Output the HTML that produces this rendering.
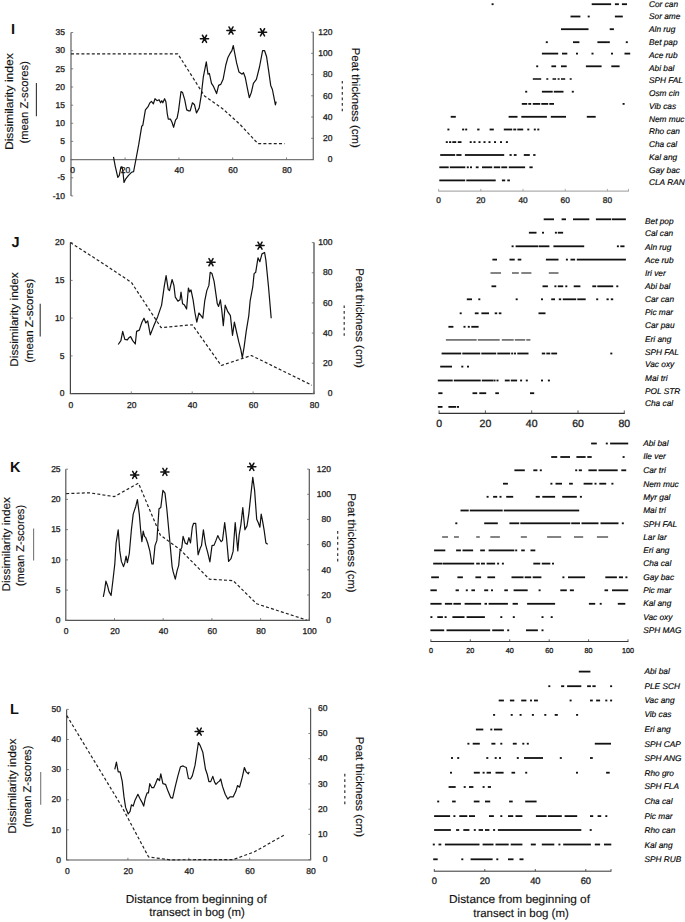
<!DOCTYPE html>
<html><head><meta charset="utf-8"><style>
html,body{margin:0;padding:0;background:#fff;}
body{width:685px;height:922px;overflow:hidden;font-family:"Liberation Sans",sans-serif;}
svg{display:block;text-rendering:geometricPrecision;}
</style></head><body>
<svg width="685" height="922" viewBox="0 0 685 922" font-family="'Liberation Sans', sans-serif"><rect width="685" height="922" fill="#fff"/><line x1="71.0" y1="32.5" x2="71.0" y2="195.9" stroke="#777" stroke-width="1.4" /><line x1="70.3" y1="159.6" x2="314.0" y2="159.6" stroke="#777" stroke-width="1.4" /><line x1="313.3" y1="32.1" x2="313.3" y2="159.5" stroke="#777" stroke-width="1.4" /><line x1="71.0" y1="32.5" x2="73.2" y2="32.5" stroke="#666" stroke-width="0.8" /><text x="65.0" y="35.2" font-size="8.5" text-anchor="end" fill="#222" stroke="#222" stroke-width="0.3" >35</text><line x1="71.0" y1="50.7" x2="73.2" y2="50.7" stroke="#666" stroke-width="0.8" /><text x="65.0" y="53.4" font-size="8.5" text-anchor="end" fill="#222" stroke="#222" stroke-width="0.3" >30</text><line x1="71.0" y1="68.8" x2="73.2" y2="68.8" stroke="#666" stroke-width="0.8" /><text x="65.0" y="71.5" font-size="8.5" text-anchor="end" fill="#222" stroke="#222" stroke-width="0.3" >25</text><line x1="71.0" y1="87.0" x2="73.2" y2="87.0" stroke="#666" stroke-width="0.8" /><text x="65.0" y="89.7" font-size="8.5" text-anchor="end" fill="#222" stroke="#222" stroke-width="0.3" >20</text><line x1="71.0" y1="105.2" x2="73.2" y2="105.2" stroke="#666" stroke-width="0.8" /><text x="65.0" y="107.8" font-size="8.5" text-anchor="end" fill="#222" stroke="#222" stroke-width="0.3" >15</text><line x1="71.0" y1="123.3" x2="73.2" y2="123.3" stroke="#666" stroke-width="0.8" /><text x="65.0" y="126.0" font-size="8.5" text-anchor="end" fill="#222" stroke="#222" stroke-width="0.3" >10</text><line x1="71.0" y1="141.4" x2="73.2" y2="141.4" stroke="#666" stroke-width="0.8" /><text x="65.0" y="144.1" font-size="8.5" text-anchor="end" fill="#222" stroke="#222" stroke-width="0.3" >5</text><line x1="71.0" y1="159.6" x2="73.2" y2="159.6" stroke="#666" stroke-width="0.8" /><text x="65.0" y="162.3" font-size="8.5" text-anchor="end" fill="#222" stroke="#222" stroke-width="0.3" >0</text><line x1="71.0" y1="177.8" x2="73.2" y2="177.8" stroke="#666" stroke-width="0.8" /><text x="65.0" y="180.4" font-size="8.5" text-anchor="end" fill="#222" stroke="#222" stroke-width="0.3" >-5</text><line x1="71.0" y1="195.9" x2="73.2" y2="195.9" stroke="#666" stroke-width="0.8" /><text x="65.0" y="198.6" font-size="8.5" text-anchor="end" fill="#222" stroke="#222" stroke-width="0.3" >-10</text><text x="72.7" y="173.1" font-size="8.5" text-anchor="middle" fill="#222" stroke="#222" stroke-width="0.3" >0</text><line x1="125.1" y1="159.6" x2="125.1" y2="157.4" stroke="#666" stroke-width="0.8" /><text x="125.5" y="173.1" font-size="8.5" text-anchor="middle" fill="#222" stroke="#222" stroke-width="0.3" >20</text><line x1="178.9" y1="159.6" x2="178.9" y2="157.4" stroke="#666" stroke-width="0.8" /><text x="179.3" y="173.1" font-size="8.5" text-anchor="middle" fill="#222" stroke="#222" stroke-width="0.3" >40</text><line x1="232.7" y1="159.6" x2="232.7" y2="157.4" stroke="#666" stroke-width="0.8" /><text x="233.1" y="173.1" font-size="8.5" text-anchor="middle" fill="#222" stroke="#222" stroke-width="0.3" >60</text><line x1="286.5" y1="159.6" x2="286.5" y2="157.4" stroke="#666" stroke-width="0.8" /><text x="286.9" y="173.1" font-size="8.5" text-anchor="middle" fill="#222" stroke="#222" stroke-width="0.3" >80</text><line x1="311.1" y1="159.5" x2="313.3" y2="159.5" stroke="#666" stroke-width="0.8" /><text x="332.5" y="162.2" font-size="8.5" text-anchor="end" fill="#222" stroke="#222" stroke-width="0.3" >0</text><line x1="311.1" y1="138.3" x2="313.3" y2="138.3" stroke="#666" stroke-width="0.8" /><text x="332.5" y="140.9" font-size="8.5" text-anchor="end" fill="#222" stroke="#222" stroke-width="0.3" >20</text><line x1="311.1" y1="117.0" x2="313.3" y2="117.0" stroke="#666" stroke-width="0.8" /><text x="332.5" y="119.7" font-size="8.5" text-anchor="end" fill="#222" stroke="#222" stroke-width="0.3" >40</text><line x1="311.1" y1="95.8" x2="313.3" y2="95.8" stroke="#666" stroke-width="0.8" /><text x="332.5" y="98.5" font-size="8.5" text-anchor="end" fill="#222" stroke="#222" stroke-width="0.3" >60</text><line x1="311.1" y1="74.6" x2="313.3" y2="74.6" stroke="#666" stroke-width="0.8" /><text x="332.5" y="77.2" font-size="8.5" text-anchor="end" fill="#222" stroke="#222" stroke-width="0.3" >80</text><line x1="311.1" y1="53.3" x2="313.3" y2="53.3" stroke="#666" stroke-width="0.8" /><text x="332.5" y="56.0" font-size="8.5" text-anchor="end" fill="#222" stroke="#222" stroke-width="0.3" >100</text><line x1="311.1" y1="32.1" x2="313.3" y2="32.1" stroke="#666" stroke-width="0.8" /><text x="332.5" y="34.8" font-size="8.5" text-anchor="end" fill="#222" stroke="#222" stroke-width="0.3" >120</text><polyline points="71.0,53.8 177.8,53.8 204.5,96.0 222.6,108.7 240.1,124.5 257.9,143.6 284.6,143.6" fill="none" stroke="#222" stroke-width="1.2" stroke-linejoin="round" stroke-dasharray="3,2.2"/><polyline points="113.5,156.9 115.2,166.1 117.8,177.4 119.3,175.3 120.9,167.1 121.9,166.7 122.9,171.2 124.0,182.5 125.4,179.4 128.5,175.3 131.5,172.3 133.6,171.6 136.0,159.0 138.7,144.7 141.7,126.3 142.8,125.3 145.4,109.9 147.9,106.9 149.9,102.8 151.4,101.3 153.4,103.8 155.0,98.7 157.0,100.7 159.1,99.7 160.6,102.8 161.8,100.7 162.8,102.8 164.6,98.7 165.9,101.7 167.3,114.0 168.3,119.1 170.4,119.1 172.0,122.2 173.6,127.3 175.5,120.1 177.1,118.1 178.5,110.9 181.0,91.5 182.6,92.6 184.7,99.7 186.7,109.9 188.8,110.9 190.2,110.9 192.4,102.8 194.5,104.8 196.5,113.0 199.2,107.9 201.2,95.6 203.3,77.2 206.3,61.9 208.0,74.2 209.4,73.5 211.5,83.4 213.5,86.4 216.6,93.6 218.6,85.4 220.7,84.4 223.1,79.3 225.8,65.0 227.8,57.8 229.9,53.7 231.9,50.7 233.3,45.5 234.6,52.7 236.6,62.9 239.0,72.1 242.1,74.2 243.5,72.7 245.2,77.2 247.2,87.4 249.3,97.7 251.3,92.6 253.4,83.4 256.4,79.3 259.5,67.0 262.6,50.7 264.6,50.7 266.6,56.8 268.7,71.1 270.7,85.4 272.4,89.5 273.8,96.6 275.4,104.8 276.2,101.7" fill="none" stroke="#111" stroke-width="1.2" stroke-linejoin="round"/><path d="M200.40,38.80L208.60,38.80M202.45,35.25L206.55,42.35M206.55,35.25L202.45,42.35" stroke="#111" stroke-width="1.5" stroke-linecap="round" fill="none"/><path d="M226.90,30.50L235.10,30.50M228.95,26.95L233.05,34.05M233.05,26.95L228.95,34.05" stroke="#111" stroke-width="1.5" stroke-linecap="round" fill="none"/><path d="M258.40,32.30L266.60,32.30M260.45,28.75L264.55,35.85M264.55,28.75L260.45,35.85" stroke="#111" stroke-width="1.5" stroke-linecap="round" fill="none"/><text x="13.4" y="101.6" font-size="11.2" text-anchor="middle" fill="#111" stroke="#111" stroke-width="0.15" textLength="97" lengthAdjust="spacingAndGlyphs" transform="rotate(-90 13.4 101.6)" >Dissimilarity index</text><text x="28.5" y="102.3" font-size="11.2" text-anchor="middle" fill="#111" stroke="#111" stroke-width="0.15" textLength="82.5" lengthAdjust="spacingAndGlyphs" transform="rotate(-90 28.5 102.3)" >(mean Z-scores)</text><line x1="36.4" y1="82.9" x2="36.4" y2="116.2" stroke="#333" stroke-width="1.1" /><text x="351.6" y="97.7" font-size="11.2" text-anchor="middle" fill="#111" stroke="#111" stroke-width="0.15" textLength="100" lengthAdjust="spacingAndGlyphs" transform="rotate(90 351.6 97.7)" >Peat thickness (cm)</text><line x1="342.3" y1="80.9" x2="342.3" y2="112.4" stroke="#333" stroke-width="1.2" stroke-dasharray="2.7,2.85"/><text x="10.9" y="33.8" font-size="14.5" text-anchor="start" fill="#111" font-weight="bold" >I</text><line x1="70.4" y1="242.6" x2="70.4" y2="393.6" stroke="#444" stroke-width="1.2" /><line x1="69.8" y1="393.6" x2="314.6" y2="393.6" stroke="#444" stroke-width="1.2" /><line x1="314.0" y1="242.6" x2="314.0" y2="393.4" stroke="#444" stroke-width="1.2" /><line x1="70.4" y1="242.6" x2="72.6" y2="242.6" stroke="#666" stroke-width="0.8" /><text x="64.4" y="245.3" font-size="8.5" text-anchor="end" fill="#222" stroke="#222" stroke-width="0.3" >20</text><line x1="70.4" y1="280.4" x2="72.6" y2="280.4" stroke="#666" stroke-width="0.8" /><text x="64.4" y="283.0" font-size="8.5" text-anchor="end" fill="#222" stroke="#222" stroke-width="0.3" >15</text><line x1="70.4" y1="318.1" x2="72.6" y2="318.1" stroke="#666" stroke-width="0.8" /><text x="64.4" y="320.8" font-size="8.5" text-anchor="end" fill="#222" stroke="#222" stroke-width="0.3" >10</text><line x1="70.4" y1="355.9" x2="72.6" y2="355.9" stroke="#666" stroke-width="0.8" /><text x="64.4" y="358.5" font-size="8.5" text-anchor="end" fill="#222" stroke="#222" stroke-width="0.3" >5</text><line x1="70.4" y1="393.6" x2="72.6" y2="393.6" stroke="#666" stroke-width="0.8" /><text x="64.4" y="396.3" font-size="8.5" text-anchor="end" fill="#222" stroke="#222" stroke-width="0.3" >0</text><text x="70.8" y="407.7" font-size="8.5" text-anchor="middle" fill="#222" stroke="#222" stroke-width="0.3" >0</text><line x1="131.3" y1="393.6" x2="131.3" y2="391.4" stroke="#666" stroke-width="0.8" /><text x="131.7" y="407.7" font-size="8.5" text-anchor="middle" fill="#222" stroke="#222" stroke-width="0.3" >20</text><line x1="192.2" y1="393.6" x2="192.2" y2="391.4" stroke="#666" stroke-width="0.8" /><text x="192.6" y="407.7" font-size="8.5" text-anchor="middle" fill="#222" stroke="#222" stroke-width="0.3" >40</text><line x1="253.1" y1="393.6" x2="253.1" y2="391.4" stroke="#666" stroke-width="0.8" /><text x="253.5" y="407.7" font-size="8.5" text-anchor="middle" fill="#222" stroke="#222" stroke-width="0.3" >60</text><line x1="314.0" y1="393.6" x2="314.0" y2="391.4" stroke="#666" stroke-width="0.8" /><text x="314.4" y="407.7" font-size="8.5" text-anchor="middle" fill="#222" stroke="#222" stroke-width="0.3" >80</text><line x1="311.8" y1="393.4" x2="314.0" y2="393.4" stroke="#666" stroke-width="0.8" /><text x="332.5" y="396.1" font-size="8.5" text-anchor="end" fill="#222" stroke="#222" stroke-width="0.3" >0</text><line x1="311.8" y1="363.2" x2="314.0" y2="363.2" stroke="#666" stroke-width="0.8" /><text x="332.5" y="365.9" font-size="8.5" text-anchor="end" fill="#222" stroke="#222" stroke-width="0.3" >20</text><line x1="311.8" y1="333.1" x2="314.0" y2="333.1" stroke="#666" stroke-width="0.8" /><text x="332.5" y="335.8" font-size="8.5" text-anchor="end" fill="#222" stroke="#222" stroke-width="0.3" >40</text><line x1="311.8" y1="302.9" x2="314.0" y2="302.9" stroke="#666" stroke-width="0.8" /><text x="332.5" y="305.6" font-size="8.5" text-anchor="end" fill="#222" stroke="#222" stroke-width="0.3" >60</text><line x1="311.8" y1="272.8" x2="314.0" y2="272.8" stroke="#666" stroke-width="0.8" /><text x="332.5" y="275.4" font-size="8.5" text-anchor="end" fill="#222" stroke="#222" stroke-width="0.3" >80</text><line x1="311.8" y1="242.6" x2="314.0" y2="242.6" stroke="#666" stroke-width="0.8" /><text x="332.5" y="245.3" font-size="8.5" text-anchor="end" fill="#222" stroke="#222" stroke-width="0.3" >100</text><polyline points="70.4,242.6 99.8,261.4 131.4,282.4 161.1,327.6 192.3,324.8 221.2,365.5 251.4,355.5 311.9,385.2" fill="none" stroke="#222" stroke-width="1.2" stroke-linejoin="round" stroke-dasharray="3,2.2"/><polyline points="118.2,344.5 120.9,340.6 122.7,331.4 124.8,339.3 127.4,339.8 128.7,337.9 130.6,336.6 132.7,340.6 135.3,344.0 136.6,331.4 139.3,330.1 141.9,322.2 144.0,318.2 145.8,323.0 147.7,320.9 150.3,334.8 153.7,326.1 157.6,316.9 161.6,305.1 164.2,286.7 166.1,275.7 168.2,289.3 169.5,290.6 172.1,279.5 173.9,285.4 175.3,297.2 177.9,301.2 180.0,299.8 181.0,292.0 182.6,303.8 184.5,305.1 186.6,309.0 188.4,288.0 189.7,292.0 191.0,289.9 193.1,299.8 195.0,313.0 196.8,322.2 198.9,313.0 201.0,315.6 202.8,318.2 204.7,301.2 206.8,290.6 208.9,285.4 210.2,272.3 212.0,273.6 214.1,281.4 216.0,294.6 217.3,303.8 218.6,306.4 220.4,299.8 221.8,310.4 223.3,325.6 225.2,305.1 227.8,311.7 230.4,315.6 232.5,335.3 234.4,322.2 237.0,334.0 238.8,341.9 240.9,349.8 242.3,357.6 244.1,347.1 246.2,331.4 248.8,315.6 250.1,301.2 252.8,286.7 254.1,273.6 255.7,272.3 258.0,257.8 259.9,261.7 262.0,253.9 264.6,252.5 265.9,260.4 268.5,286.7 271.2,318.2" fill="none" stroke="#111" stroke-width="1.2" stroke-linejoin="round"/><path d="M206.90,262.20L215.10,262.20M208.95,258.65L213.05,265.75M213.05,258.65L208.95,265.75" stroke="#111" stroke-width="1.5" stroke-linecap="round" fill="none"/><path d="M255.90,245.60L264.10,245.60M257.95,242.05L262.05,249.15M262.05,242.05L257.95,249.15" stroke="#111" stroke-width="1.5" stroke-linecap="round" fill="none"/><text x="17.5" y="319.5" font-size="11.2" text-anchor="middle" fill="#111" stroke="#111" stroke-width="0.15" textLength="94.5" lengthAdjust="spacingAndGlyphs" transform="rotate(-90 17.5 319.5)" >Dissimilarity index</text><text x="32.7" y="320.8" font-size="11.2" text-anchor="middle" fill="#111" stroke="#111" stroke-width="0.15" textLength="84" lengthAdjust="spacingAndGlyphs" transform="rotate(-90 32.7 320.8)" >(mean Z-scores)</text><line x1="40.2" y1="303.8" x2="40.2" y2="336.6" stroke="#333" stroke-width="1.1" /><text x="355.6" y="318.0" font-size="11.2" text-anchor="middle" fill="#111" stroke="#111" stroke-width="0.15" textLength="99.6" lengthAdjust="spacingAndGlyphs" transform="rotate(90 355.6 318.0)" >Peat thickness (cm)</text><line x1="344.2" y1="305.4" x2="344.2" y2="336.6" stroke="#333" stroke-width="1.2" stroke-dasharray="2.7,2.85"/><text x="11.5" y="247.3" font-size="14.5" text-anchor="start" fill="#111" font-weight="bold" >J</text><line x1="65.8" y1="469.2" x2="65.8" y2="620.3" stroke="#555" stroke-width="1.2" /><line x1="65.2" y1="620.3" x2="309.9" y2="620.3" stroke="#555" stroke-width="1.2" /><line x1="309.3" y1="469.1" x2="309.3" y2="620.2" stroke="#555" stroke-width="1.2" /><line x1="65.8" y1="469.2" x2="68.0" y2="469.2" stroke="#666" stroke-width="0.8" /><text x="60.6" y="471.9" font-size="8.5" text-anchor="end" fill="#222" stroke="#222" stroke-width="0.3" >25</text><line x1="65.8" y1="499.4" x2="68.0" y2="499.4" stroke="#666" stroke-width="0.8" /><text x="60.6" y="502.1" font-size="8.5" text-anchor="end" fill="#222" stroke="#222" stroke-width="0.3" >20</text><line x1="65.8" y1="529.6" x2="68.0" y2="529.6" stroke="#666" stroke-width="0.8" /><text x="60.6" y="532.3" font-size="8.5" text-anchor="end" fill="#222" stroke="#222" stroke-width="0.3" >15</text><line x1="65.8" y1="559.9" x2="68.0" y2="559.9" stroke="#666" stroke-width="0.8" /><text x="60.6" y="562.5" font-size="8.5" text-anchor="end" fill="#222" stroke="#222" stroke-width="0.3" >10</text><line x1="65.8" y1="590.1" x2="68.0" y2="590.1" stroke="#666" stroke-width="0.8" /><text x="60.6" y="592.8" font-size="8.5" text-anchor="end" fill="#222" stroke="#222" stroke-width="0.3" >5</text><line x1="65.8" y1="620.3" x2="68.0" y2="620.3" stroke="#666" stroke-width="0.8" /><text x="60.6" y="623.0" font-size="8.5" text-anchor="end" fill="#222" stroke="#222" stroke-width="0.3" >0</text><text x="66.2" y="634.1" font-size="8.5" text-anchor="middle" fill="#222" stroke="#222" stroke-width="0.3" >0</text><line x1="114.5" y1="620.3" x2="114.5" y2="618.1" stroke="#666" stroke-width="0.8" /><text x="114.9" y="634.1" font-size="8.5" text-anchor="middle" fill="#222" stroke="#222" stroke-width="0.3" >20</text><line x1="163.2" y1="620.3" x2="163.2" y2="618.1" stroke="#666" stroke-width="0.8" /><text x="163.6" y="634.1" font-size="8.5" text-anchor="middle" fill="#222" stroke="#222" stroke-width="0.3" >40</text><line x1="211.9" y1="620.3" x2="211.9" y2="618.1" stroke="#666" stroke-width="0.8" /><text x="212.3" y="634.1" font-size="8.5" text-anchor="middle" fill="#222" stroke="#222" stroke-width="0.3" >60</text><line x1="260.6" y1="620.3" x2="260.6" y2="618.1" stroke="#666" stroke-width="0.8" /><text x="261.0" y="634.1" font-size="8.5" text-anchor="middle" fill="#222" stroke="#222" stroke-width="0.3" >80</text><line x1="309.3" y1="620.3" x2="309.3" y2="618.1" stroke="#666" stroke-width="0.8" /><text x="309.7" y="634.1" font-size="8.5" text-anchor="middle" fill="#222" stroke="#222" stroke-width="0.3" >100</text><line x1="307.1" y1="620.2" x2="309.3" y2="620.2" stroke="#666" stroke-width="0.8" /><text x="331.0" y="622.9" font-size="8.5" text-anchor="end" fill="#222" stroke="#222" stroke-width="0.3" >0</text><line x1="307.1" y1="595.0" x2="309.3" y2="595.0" stroke="#666" stroke-width="0.8" /><text x="331.0" y="597.7" font-size="8.5" text-anchor="end" fill="#222" stroke="#222" stroke-width="0.3" >20</text><line x1="307.1" y1="569.8" x2="309.3" y2="569.8" stroke="#666" stroke-width="0.8" /><text x="331.0" y="572.5" font-size="8.5" text-anchor="end" fill="#222" stroke="#222" stroke-width="0.3" >40</text><line x1="307.1" y1="544.6" x2="309.3" y2="544.6" stroke="#666" stroke-width="0.8" /><text x="331.0" y="547.3" font-size="8.5" text-anchor="end" fill="#222" stroke="#222" stroke-width="0.3" >60</text><line x1="307.1" y1="519.4" x2="309.3" y2="519.4" stroke="#666" stroke-width="0.8" /><text x="331.0" y="522.1" font-size="8.5" text-anchor="end" fill="#222" stroke="#222" stroke-width="0.3" >80</text><line x1="307.1" y1="494.3" x2="309.3" y2="494.3" stroke="#666" stroke-width="0.8" /><text x="331.0" y="496.9" font-size="8.5" text-anchor="end" fill="#222" stroke="#222" stroke-width="0.3" >100</text><line x1="307.1" y1="469.1" x2="309.3" y2="469.1" stroke="#666" stroke-width="0.8" /><text x="331.0" y="471.7" font-size="8.5" text-anchor="end" fill="#222" stroke="#222" stroke-width="0.3" >120</text><polyline points="66.2,493.6 89.3,492.8 114.3,496.6 138.5,483.2 160.3,535.1 180.0,549.5 209.4,579.2 233.1,580.6 256.7,603.8 306.6,620.0" fill="none" stroke="#222" stroke-width="1.2" stroke-linejoin="round" stroke-dasharray="3,2.2"/><polyline points="103.3,596.8 104.6,590.3 105.9,581.1 107.7,586.3 109.0,591.6 111.1,595.5 113.0,579.8 114.8,564.0 116.1,543.0 118.2,529.8 119.8,550.9 121.4,561.4 123.5,566.6 124.8,562.7 126.1,556.1 127.4,562.7 129.3,553.5 131.4,529.8 133.2,514.1 134.5,510.1 135.8,506.2 137.4,499.6 139.3,514.1 140.6,529.8 141.9,541.7 143.2,531.2 144.5,536.4 145.8,537.7 147.7,543.0 149.8,550.9 151.9,564.0 153.2,564.0 155.0,545.6 156.9,540.4 159.0,508.8 160.8,507.5 162.9,490.4 165.0,493.1 166.8,508.8 169.5,537.7 172.1,566.6 173.2,571.9 175.3,579.2 177.1,570.6 178.7,565.3 180.0,550.9 181.8,547.4 183.1,536.4 185.2,543.0 187.1,544.3 188.9,537.7 190.5,543.0 192.3,527.2 193.6,523.3 195.7,523.3 198.1,554.8 200.2,548.2 201.5,545.6 203.4,529.8 205.5,544.3 207.6,552.2 209.9,561.9 212.0,545.6 214.1,545.1 216.0,540.4 217.8,535.6 219.4,539.0 221.2,541.7 222.5,540.4 224.7,522.5 226.5,537.7 228.6,561.4 231.0,558.7 233.1,551.4 235.2,522.5 237.8,550.9 239.1,535.1 240.9,524.6 242.8,507.5 244.9,529.8 247.0,525.9 248.8,514.1 250.9,494.4 252.8,477.3 254.6,490.4 256.7,519.3 258.5,523.3 259.9,527.2 261.2,514.1 262.5,520.6 264.1,529.8 265.9,543.0 267.7,544.3" fill="none" stroke="#111" stroke-width="1.2" stroke-linejoin="round"/><path d="M130.60,474.90L138.80,474.90M132.65,471.35L136.75,478.45M136.75,471.35L132.65,478.45" stroke="#111" stroke-width="1.5" stroke-linecap="round" fill="none"/><path d="M160.80,471.90L169.00,471.90M162.85,468.35L166.95,475.45M166.95,468.35L162.85,475.45" stroke="#111" stroke-width="1.5" stroke-linecap="round" fill="none"/><path d="M247.70,466.80L255.90,466.80M249.75,463.25L253.85,470.35M253.85,463.25L249.75,470.35" stroke="#111" stroke-width="1.5" stroke-linecap="round" fill="none"/><text x="9.7" y="544.3" font-size="11.2" text-anchor="middle" fill="#111" stroke="#111" stroke-width="0.15" textLength="94.6" lengthAdjust="spacingAndGlyphs" transform="rotate(-90 9.7 544.3)" >Dissimilarity index</text><text x="24.1" y="545.6" font-size="11.2" text-anchor="middle" fill="#111" stroke="#111" stroke-width="0.15" textLength="81.4" lengthAdjust="spacingAndGlyphs" transform="rotate(-90 24.1 545.6)" >(mean Z-scores)</text><line x1="33.6" y1="528.5" x2="33.6" y2="560.6" stroke="#777" stroke-width="1.1" /><text x="347.6" y="542.9" font-size="11.2" text-anchor="middle" fill="#111" stroke="#111" stroke-width="0.15" textLength="99.4" lengthAdjust="spacingAndGlyphs" transform="rotate(90 347.6 542.9)" >Peat thickness (cm)</text><line x1="337.7" y1="531.0" x2="337.7" y2="561.4" stroke="#333" stroke-width="1.2" stroke-dasharray="2.7,2.85"/><text x="10.1" y="471.5" font-size="14.5" text-anchor="start" fill="#111" font-weight="bold" >K</text><line x1="66.6" y1="709.4" x2="66.6" y2="860.0" stroke="#555" stroke-width="1.2" /><line x1="66.0" y1="860.0" x2="311.2" y2="860.0" stroke="#555" stroke-width="1.2" /><line x1="310.6" y1="708.3" x2="310.6" y2="859.6" stroke="#555" stroke-width="1.2" /><line x1="66.6" y1="709.4" x2="68.8" y2="709.4" stroke="#666" stroke-width="0.8" /><text x="61.0" y="712.1" font-size="8.5" text-anchor="end" fill="#222" stroke="#222" stroke-width="0.3" >50</text><line x1="66.6" y1="739.5" x2="68.8" y2="739.5" stroke="#666" stroke-width="0.8" /><text x="61.0" y="742.2" font-size="8.5" text-anchor="end" fill="#222" stroke="#222" stroke-width="0.3" >40</text><line x1="66.6" y1="769.6" x2="68.8" y2="769.6" stroke="#666" stroke-width="0.8" /><text x="61.0" y="772.3" font-size="8.5" text-anchor="end" fill="#222" stroke="#222" stroke-width="0.3" >30</text><line x1="66.6" y1="799.8" x2="68.8" y2="799.8" stroke="#666" stroke-width="0.8" /><text x="61.0" y="802.4" font-size="8.5" text-anchor="end" fill="#222" stroke="#222" stroke-width="0.3" >20</text><line x1="66.6" y1="829.9" x2="68.8" y2="829.9" stroke="#666" stroke-width="0.8" /><text x="61.0" y="832.6" font-size="8.5" text-anchor="end" fill="#222" stroke="#222" stroke-width="0.3" >10</text><line x1="66.6" y1="860.0" x2="68.8" y2="860.0" stroke="#666" stroke-width="0.8" /><text x="61.0" y="862.7" font-size="8.5" text-anchor="end" fill="#222" stroke="#222" stroke-width="0.3" >0</text><text x="67.4" y="874.1" font-size="8.5" text-anchor="middle" fill="#222" stroke="#222" stroke-width="0.3" >0</text><line x1="127.9" y1="860.0" x2="127.9" y2="857.8" stroke="#666" stroke-width="0.8" /><text x="128.3" y="874.1" font-size="8.5" text-anchor="middle" fill="#222" stroke="#222" stroke-width="0.3" >20</text><line x1="188.8" y1="860.0" x2="188.8" y2="857.8" stroke="#666" stroke-width="0.8" /><text x="189.2" y="874.1" font-size="8.5" text-anchor="middle" fill="#222" stroke="#222" stroke-width="0.3" >40</text><line x1="249.7" y1="860.0" x2="249.7" y2="857.8" stroke="#666" stroke-width="0.8" /><text x="250.1" y="874.1" font-size="8.5" text-anchor="middle" fill="#222" stroke="#222" stroke-width="0.3" >60</text><line x1="310.6" y1="860.0" x2="310.6" y2="857.8" stroke="#666" stroke-width="0.8" /><text x="311.0" y="874.1" font-size="8.5" text-anchor="middle" fill="#222" stroke="#222" stroke-width="0.3" >80</text><line x1="308.4" y1="859.6" x2="310.6" y2="859.6" stroke="#666" stroke-width="0.8" /><text x="327.5" y="862.3" font-size="8.5" text-anchor="end" fill="#222" stroke="#222" stroke-width="0.3" >0</text><line x1="308.4" y1="834.4" x2="310.6" y2="834.4" stroke="#666" stroke-width="0.8" /><text x="327.5" y="837.1" font-size="8.5" text-anchor="end" fill="#222" stroke="#222" stroke-width="0.3" >10</text><line x1="308.4" y1="809.2" x2="310.6" y2="809.2" stroke="#666" stroke-width="0.8" /><text x="327.5" y="811.8" font-size="8.5" text-anchor="end" fill="#222" stroke="#222" stroke-width="0.3" >20</text><line x1="308.4" y1="783.9" x2="310.6" y2="783.9" stroke="#666" stroke-width="0.8" /><text x="327.5" y="786.6" font-size="8.5" text-anchor="end" fill="#222" stroke="#222" stroke-width="0.3" >30</text><line x1="308.4" y1="758.7" x2="310.6" y2="758.7" stroke="#666" stroke-width="0.8" /><text x="327.5" y="761.4" font-size="8.5" text-anchor="end" fill="#222" stroke="#222" stroke-width="0.3" >40</text><line x1="308.4" y1="733.5" x2="310.6" y2="733.5" stroke="#666" stroke-width="0.8" /><text x="327.5" y="736.2" font-size="8.5" text-anchor="end" fill="#222" stroke="#222" stroke-width="0.3" >50</text><line x1="308.4" y1="708.3" x2="310.6" y2="708.3" stroke="#666" stroke-width="0.8" /><text x="327.5" y="711.0" font-size="8.5" text-anchor="end" fill="#222" stroke="#222" stroke-width="0.3" >60</text><polyline points="66.8,715.6 120.9,805.0 148.6,857.0 170.0,859.8 233.1,859.6 254.1,852.0 285.6,834.2" fill="none" stroke="#222" stroke-width="1.2" stroke-linejoin="round" stroke-dasharray="3,2.2"/><polyline points="114.8,769.3 116.4,762.2 118.2,771.9 120.1,771.9 122.2,781.1 124.0,796.9 125.6,807.4 128.2,814.0 130.1,811.3 131.4,804.8 133.2,806.1 134.8,800.8 136.6,796.9 137.9,794.3 139.8,798.2 141.9,802.1 143.7,806.1 145.3,798.2 147.1,792.9 148.4,792.9 149.8,783.7 151.9,787.7 153.7,787.7 155.5,783.7 157.6,778.5 159.5,780.6 160.8,773.8 162.9,783.7 165.5,784.3 168.2,791.6 170.8,797.7 172.6,798.2 175.3,786.4 177.9,775.9 180.5,766.7 183.1,765.9 184.5,766.7 186.3,767.5 188.4,778.5 190.5,779.0 192.3,775.9 195.0,765.4 196.8,753.5 198.4,742.5 200.2,745.6 202.8,752.2 205.5,769.3 207.3,774.5 208.9,781.6 210.7,781.6 212.8,776.4 214.7,782.4 216.0,784.3 217.8,782.4 219.4,781.1 220.7,779.0 222.5,786.4 225.2,794.3 227.8,799.0 229.9,796.9 233.1,796.9 235.7,791.6 237.5,785.6 239.6,787.2 242.3,777.2 244.4,767.5 246.2,771.9 248.3,773.8 249.3,771.9" fill="none" stroke="#111" stroke-width="1.2" stroke-linejoin="round"/><path d="M195.10,731.60L203.30,731.60M197.15,728.05L201.25,735.15M201.25,728.05L197.15,735.15" stroke="#111" stroke-width="1.5" stroke-linecap="round" fill="none"/><text x="16.2" y="786.2" font-size="11.2" text-anchor="middle" fill="#111" stroke="#111" stroke-width="0.15" textLength="95.1" lengthAdjust="spacingAndGlyphs" transform="rotate(-90 16.2 786.2)" >Dissimilarity index</text><text x="31.5" y="786.4" font-size="11.2" text-anchor="middle" fill="#111" stroke="#111" stroke-width="0.15" textLength="81.5" lengthAdjust="spacingAndGlyphs" transform="rotate(-90 31.5 786.4)" >(mean Z-scores)</text><line x1="40.7" y1="771.9" x2="40.7" y2="804.8" stroke="#777" stroke-width="1.1" /><text x="355.9" y="786.9" font-size="11.2" text-anchor="middle" fill="#111" stroke="#111" stroke-width="0.15" textLength="100.2" lengthAdjust="spacingAndGlyphs" transform="rotate(90 355.9 786.9)" >Peat thickness (cm)</text><line x1="344.8" y1="773.7" x2="344.8" y2="804.4" stroke="#333" stroke-width="1.2" stroke-dasharray="2.7,2.85"/><text x="10.1" y="713.6" font-size="14.5" text-anchor="start" fill="#111" font-weight="bold" >L</text><line x1="438.2" y1="191.1" x2="628.9" y2="191.1" stroke="#999" stroke-width="1.0" /><line x1="438.6" y1="191.1" x2="438.6" y2="188.9" stroke="#999" stroke-width="0.8" /><text x="438.6" y="203.2" font-size="8.3" text-anchor="middle" fill="#222" stroke="#222" stroke-width="0.3" >0</text><line x1="480.8" y1="191.1" x2="480.8" y2="188.9" stroke="#999" stroke-width="0.8" /><text x="480.8" y="203.2" font-size="8.3" text-anchor="middle" fill="#222" stroke="#222" stroke-width="0.3" >20</text><line x1="523.0" y1="191.1" x2="523.0" y2="188.9" stroke="#999" stroke-width="0.8" /><text x="523.0" y="203.2" font-size="8.3" text-anchor="middle" fill="#222" stroke="#222" stroke-width="0.3" >40</text><line x1="565.2" y1="191.1" x2="565.2" y2="188.9" stroke="#999" stroke-width="0.8" /><text x="565.2" y="203.2" font-size="8.3" text-anchor="middle" fill="#222" stroke="#222" stroke-width="0.3" >60</text><line x1="607.4" y1="191.1" x2="607.4" y2="188.9" stroke="#999" stroke-width="0.8" /><text x="607.4" y="203.2" font-size="8.3" text-anchor="middle" fill="#222" stroke="#222" stroke-width="0.3" >80</text><line x1="628.5" y1="191.1" x2="628.5" y2="188.9" stroke="#999" stroke-width="0.8" /><rect x="491.6" y="3.3" width="2.0" height="1.8" fill="#111"/><rect x="591.7" y="3.3" width="19.4" height="1.8" fill="#111"/><rect x="614.9" y="3.3" width="4.0" height="1.8" fill="#111"/><rect x="621.9" y="3.3" width="5.1" height="1.8" fill="#111"/><rect x="570.5" y="15.6" width="9.9" height="1.8" fill="#111"/><rect x="587.7" y="15.6" width="2.0" height="1.8" fill="#111"/><rect x="614.9" y="15.6" width="7.9" height="1.8" fill="#111"/><rect x="561.0" y="28.3" width="27.5" height="1.8" fill="#111"/><rect x="609.7" y="28.3" width="4.2" height="1.8" fill="#111"/><rect x="545.8" y="41.3" width="2.0" height="1.8" fill="#111"/><rect x="573.0" y="41.3" width="6.4" height="1.8" fill="#111"/><rect x="597.4" y="41.3" width="10.5" height="1.8" fill="#111"/><rect x="607.8" y="41.3" width="2.0" height="1.8" fill="#111"/><rect x="625.8" y="41.3" width="2.0" height="1.8" fill="#111"/><rect x="541.9" y="52.7" width="16.3" height="1.8" fill="#111"/><rect x="562.0" y="52.7" width="5.3" height="1.8" fill="#111"/><rect x="576.0" y="52.7" width="2.0" height="1.8" fill="#111"/><rect x="591.5" y="52.7" width="2.0" height="1.8" fill="#111"/><rect x="611.0" y="52.7" width="2.0" height="1.8" fill="#111"/><rect x="624.5" y="52.7" width="5.7" height="1.8" fill="#111"/><rect x="536.2" y="65.4" width="2.0" height="1.8" fill="#111"/><rect x="551.4" y="65.4" width="4.7" height="1.8" fill="#111"/><rect x="561.0" y="65.4" width="5.7" height="1.8" fill="#111"/><rect x="585.9" y="65.4" width="15.7" height="1.8" fill="#111"/><rect x="611.3" y="65.4" width="8.3" height="1.8" fill="#111"/><rect x="532.8" y="78.1" width="8.4" height="1.8" fill="#333"/><rect x="546.3" y="78.1" width="2.0" height="1.8" fill="#333"/><rect x="552.5" y="78.1" width="3.6" height="1.8" fill="#333"/><rect x="557.6" y="78.1" width="2.0" height="1.8" fill="#333"/><rect x="561.0" y="78.1" width="4.2" height="1.8" fill="#333"/><rect x="569.7" y="78.1" width="2.0" height="1.8" fill="#333"/><rect x="525.2" y="90.8" width="2.0" height="1.8" fill="#111"/><rect x="541.9" y="90.8" width="10.8" height="1.8" fill="#111"/><rect x="553.8" y="90.8" width="9.7" height="1.8" fill="#111"/><rect x="571.8" y="90.8" width="2.0" height="1.8" fill="#111"/><rect x="521.8" y="103.0" width="5.4" height="1.8" fill="#111"/><rect x="528.3" y="103.0" width="2.9" height="1.8" fill="#111"/><rect x="532.8" y="103.0" width="7.4" height="1.8" fill="#111"/><rect x="541.3" y="103.0" width="6.9" height="1.8" fill="#111"/><rect x="549.3" y="103.0" width="4.7" height="1.8" fill="#111"/><rect x="622.6" y="103.0" width="2.0" height="1.8" fill="#111"/><rect x="450.7" y="115.9" width="5.1" height="1.8" fill="#111"/><rect x="508.6" y="115.9" width="8.9" height="1.8" fill="#111"/><rect x="521.3" y="115.9" width="25.6" height="1.8" fill="#111"/><rect x="550.8" y="115.9" width="15.2" height="1.8" fill="#111"/><rect x="586.8" y="115.9" width="8.9" height="1.8" fill="#111"/><rect x="447.4" y="128.6" width="2.0" height="1.8" fill="#111"/><rect x="462.1" y="128.6" width="2.1" height="1.8" fill="#111"/><rect x="465.2" y="128.6" width="2.0" height="1.8" fill="#111"/><rect x="477.2" y="128.6" width="2.3" height="1.8" fill="#111"/><rect x="489.6" y="128.6" width="4.2" height="1.8" fill="#111"/><rect x="503.8" y="128.6" width="8.4" height="1.8" fill="#111"/><rect x="513.3" y="128.6" width="2.9" height="1.8" fill="#111"/><rect x="517.3" y="128.6" width="5.9" height="1.8" fill="#111"/><rect x="527.3" y="128.6" width="2.0" height="1.8" fill="#111"/><rect x="533.8" y="128.6" width="2.0" height="1.8" fill="#111"/><rect x="537.3" y="128.6" width="2.0" height="1.8" fill="#111"/><rect x="445.8" y="141.2" width="2.0" height="1.8" fill="#111"/><rect x="449.1" y="141.2" width="2.1" height="1.8" fill="#111"/><rect x="452.3" y="141.2" width="3.9" height="1.8" fill="#111"/><rect x="457.8" y="141.2" width="3.7" height="1.8" fill="#111"/><rect x="469.7" y="141.2" width="2.0" height="1.8" fill="#111"/><rect x="473.5" y="141.2" width="2.0" height="1.8" fill="#111"/><rect x="478.5" y="141.2" width="2.0" height="1.8" fill="#111"/><rect x="483.5" y="141.2" width="2.0" height="1.8" fill="#111"/><rect x="488.5" y="141.2" width="2.0" height="1.8" fill="#111"/><rect x="494.0" y="141.2" width="2.0" height="1.8" fill="#111"/><rect x="500.0" y="141.2" width="2.0" height="1.8" fill="#111"/><rect x="505.9" y="141.2" width="2.0" height="1.8" fill="#111"/><rect x="440.2" y="154.1" width="15.0" height="1.8" fill="#111"/><rect x="456.3" y="154.1" width="5.2" height="1.8" fill="#111"/><rect x="464.9" y="154.1" width="39.3" height="1.8" fill="#111"/><rect x="509.5" y="154.1" width="2.2" height="1.8" fill="#111"/><rect x="513.8" y="154.1" width="2.8" height="1.8" fill="#111"/><rect x="523.8" y="154.1" width="6.0" height="1.8" fill="#111"/><rect x="533.2" y="154.1" width="2.3" height="1.8" fill="#111"/><rect x="439.3" y="166.4" width="9.4" height="1.8" fill="#111"/><rect x="449.8" y="166.4" width="15.5" height="1.8" fill="#111"/><rect x="466.8" y="166.4" width="2.0" height="1.8" fill="#111"/><rect x="470.0" y="166.4" width="2.0" height="1.8" fill="#111"/><rect x="475.8" y="166.4" width="2.8" height="1.8" fill="#111"/><rect x="482.0" y="166.4" width="10.2" height="1.8" fill="#111"/><rect x="493.8" y="166.4" width="6.4" height="1.8" fill="#111"/><rect x="501.3" y="166.4" width="5.9" height="1.8" fill="#111"/><rect x="508.8" y="166.4" width="16.3" height="1.8" fill="#111"/><rect x="529.4" y="166.4" width="3.3" height="1.8" fill="#111"/><rect x="439.3" y="179.5" width="25.9" height="1.8" fill="#111"/><rect x="466.3" y="179.5" width="29.4" height="1.8" fill="#111"/><rect x="501.9" y="179.5" width="3.3" height="1.8" fill="#111"/><rect x="507.3" y="179.5" width="2.6" height="1.8" fill="#111"/><text x="649.0" y="7.2" font-size="8.3" text-anchor="start" fill="#000" stroke="#000" stroke-width="0.15" font-style="italic" >Cor can</text><text x="649.0" y="19.3" font-size="8.3" text-anchor="start" fill="#000" stroke="#000" stroke-width="0.15" font-style="italic" >Sor ame</text><text x="649.0" y="32.2" font-size="8.3" text-anchor="start" fill="#000" stroke="#000" stroke-width="0.15" font-style="italic" >Aln rug</text><text x="649.0" y="45.3" font-size="8.3" text-anchor="start" fill="#000" stroke="#000" stroke-width="0.15" font-style="italic" >Bet pap</text><text x="649.0" y="57.6" font-size="8.3" text-anchor="start" fill="#000" stroke="#000" stroke-width="0.15" font-style="italic" >Ace rub</text><text x="649.0" y="70.7" font-size="8.3" text-anchor="start" fill="#000" stroke="#000" stroke-width="0.15" font-style="italic" >Abi bal</text><text x="649.0" y="83.4" font-size="8.3" text-anchor="start" fill="#000" stroke="#000" stroke-width="0.15" font-style="italic" >SPH FAL</text><text x="649.0" y="96.1" font-size="8.3" text-anchor="start" fill="#000" stroke="#000" stroke-width="0.15" font-style="italic" >Osm cin</text><text x="649.0" y="108.6" font-size="8.3" text-anchor="start" fill="#000" stroke="#000" stroke-width="0.15" font-style="italic" >Vib cas</text><text x="649.0" y="121.7" font-size="8.3" text-anchor="start" fill="#000" stroke="#000" stroke-width="0.15" font-style="italic" >Nem muc</text><text x="649.0" y="134.4" font-size="8.3" text-anchor="start" fill="#000" stroke="#000" stroke-width="0.15" font-style="italic" >Rho can</text><text x="649.0" y="147.1" font-size="8.3" text-anchor="start" fill="#000" stroke="#000" stroke-width="0.15" font-style="italic" >Cha cal</text><text x="649.0" y="159.8" font-size="8.3" text-anchor="start" fill="#000" stroke="#000" stroke-width="0.15" font-style="italic" >Kal ang</text><text x="649.0" y="172.5" font-size="8.3" text-anchor="start" fill="#000" stroke="#000" stroke-width="0.15" font-style="italic" >Gay bac</text><text x="649.0" y="185.2" font-size="8.3" text-anchor="start" fill="#000" stroke="#000" stroke-width="0.15" font-style="italic" >CLA RAN</text><line x1="438.7" y1="413.4" x2="624.7" y2="413.4" stroke="#333" stroke-width="1.3" /><line x1="439.1" y1="413.4" x2="439.1" y2="410.4" stroke="#333" stroke-width="0.8" /><text x="439.1" y="426.8" font-size="10.5" text-anchor="middle" fill="#222" stroke="#222" stroke-width="0.3" >0</text><line x1="485.4" y1="413.4" x2="485.4" y2="410.4" stroke="#333" stroke-width="0.8" /><text x="485.4" y="426.8" font-size="10.5" text-anchor="middle" fill="#222" stroke="#222" stroke-width="0.3" >20</text><line x1="531.7" y1="413.4" x2="531.7" y2="410.4" stroke="#333" stroke-width="0.8" /><text x="531.7" y="426.8" font-size="10.5" text-anchor="middle" fill="#222" stroke="#222" stroke-width="0.3" >40</text><line x1="578.0" y1="413.4" x2="578.0" y2="410.4" stroke="#333" stroke-width="0.8" /><text x="578.0" y="426.8" font-size="10.5" text-anchor="middle" fill="#222" stroke="#222" stroke-width="0.3" >60</text><line x1="624.3" y1="413.4" x2="624.3" y2="410.4" stroke="#333" stroke-width="0.8" /><text x="624.3" y="426.8" font-size="10.5" text-anchor="middle" fill="#222" stroke="#222" stroke-width="0.3" >80</text><rect x="543.7" y="218.4" width="10.3" height="1.8" fill="#111"/><rect x="561.6" y="218.4" width="4.4" height="1.8" fill="#111"/><rect x="573.0" y="218.4" width="16.3" height="1.8" fill="#111"/><rect x="595.9" y="218.4" width="15.2" height="1.8" fill="#111"/><rect x="611.8" y="218.4" width="14.1" height="1.8" fill="#111"/><rect x="528.9" y="231.8" width="7.6" height="1.8" fill="#111"/><rect x="542.0" y="231.8" width="2.0" height="1.8" fill="#111"/><rect x="554.9" y="231.8" width="2.0" height="1.8" fill="#111"/><rect x="557.8" y="231.8" width="5.3" height="1.8" fill="#111"/><rect x="511.6" y="245.4" width="2.0" height="1.8" fill="#111"/><rect x="515.6" y="245.4" width="22.8" height="1.8" fill="#111"/><rect x="538.9" y="245.4" width="10.5" height="1.8" fill="#111"/><rect x="553.4" y="245.4" width="30.8" height="1.8" fill="#111"/><rect x="616.9" y="245.4" width="2.0" height="1.8" fill="#111"/><rect x="620.3" y="245.4" width="4.2" height="1.8" fill="#111"/><rect x="492.4" y="258.7" width="4.6" height="1.8" fill="#111"/><rect x="509.5" y="258.7" width="5.2" height="1.8" fill="#111"/><rect x="517.7" y="258.7" width="3.6" height="1.8" fill="#111"/><rect x="545.9" y="258.7" width="12.6" height="1.8" fill="#111"/><rect x="565.9" y="258.7" width="2.0" height="1.8" fill="#111"/><rect x="570.5" y="258.7" width="4.6" height="1.8" fill="#111"/><rect x="576.8" y="258.7" width="49.1" height="1.8" fill="#111"/><rect x="490.5" y="272.1" width="10.5" height="1.8" fill="#777"/><rect x="512.0" y="272.1" width="6.8" height="1.8" fill="#777"/><rect x="521.3" y="272.1" width="10.1" height="1.8" fill="#777"/><rect x="548.8" y="272.1" width="9.7" height="1.8" fill="#777"/><rect x="491.5" y="285.4" width="4.7" height="1.8" fill="#111"/><rect x="542.5" y="285.4" width="5.4" height="1.8" fill="#111"/><rect x="554.4" y="285.4" width="2.0" height="1.8" fill="#111"/><rect x="557.8" y="285.4" width="5.4" height="1.8" fill="#111"/><rect x="565.3" y="285.4" width="2.0" height="1.8" fill="#111"/><rect x="573.7" y="285.4" width="6.7" height="1.8" fill="#111"/><rect x="592.3" y="285.4" width="3.9" height="1.8" fill="#111"/><rect x="597.3" y="285.4" width="15.9" height="1.8" fill="#111"/><rect x="616.3" y="285.4" width="2.0" height="1.8" fill="#111"/><rect x="466.8" y="298.4" width="5.2" height="1.8" fill="#111"/><rect x="478.3" y="298.4" width="2.0" height="1.8" fill="#111"/><rect x="515.7" y="298.4" width="2.0" height="1.8" fill="#111"/><rect x="541.0" y="298.4" width="2.0" height="1.8" fill="#111"/><rect x="551.2" y="298.4" width="3.8" height="1.8" fill="#111"/><rect x="558.8" y="298.4" width="2.4" height="1.8" fill="#111"/><rect x="562.8" y="298.4" width="13.4" height="1.8" fill="#111"/><rect x="577.3" y="298.4" width="8.4" height="1.8" fill="#111"/><rect x="596.2" y="298.4" width="2.0" height="1.8" fill="#111"/><rect x="606.5" y="298.4" width="2.2" height="1.8" fill="#111"/><rect x="610.8" y="298.4" width="2.4" height="1.8" fill="#111"/><rect x="459.7" y="312.4" width="2.0" height="1.8" fill="#111"/><rect x="474.8" y="312.4" width="3.8" height="1.8" fill="#111"/><rect x="481.4" y="312.4" width="7.6" height="1.8" fill="#111"/><rect x="494.7" y="312.4" width="2.5" height="1.8" fill="#111"/><rect x="498.8" y="312.4" width="2.6" height="1.8" fill="#111"/><rect x="538.5" y="312.4" width="7.0" height="1.8" fill="#111"/><rect x="448.4" y="325.9" width="5.0" height="1.8" fill="#111"/><rect x="463.5" y="325.9" width="2.0" height="1.8" fill="#111"/><rect x="467.8" y="325.9" width="2.0" height="1.8" fill="#111"/><rect x="471.3" y="325.9" width="7.3" height="1.8" fill="#111"/><rect x="445.9" y="339.0" width="30.8" height="1.8" fill="#777"/><rect x="477.8" y="339.0" width="21.9" height="1.8" fill="#777"/><rect x="501.8" y="339.0" width="11.9" height="1.8" fill="#777"/><rect x="514.8" y="339.0" width="10.4" height="1.8" fill="#777"/><rect x="526.3" y="339.0" width="4.1" height="1.8" fill="#777"/><rect x="441.6" y="352.6" width="19.6" height="1.8" fill="#111"/><rect x="462.3" y="352.6" width="17.9" height="1.8" fill="#111"/><rect x="481.3" y="352.6" width="14.9" height="1.8" fill="#111"/><rect x="497.3" y="352.6" width="12.9" height="1.8" fill="#111"/><rect x="511.2" y="352.6" width="2.0" height="1.8" fill="#111"/><rect x="514.0" y="352.6" width="2.0" height="1.8" fill="#111"/><rect x="517.3" y="352.6" width="11.2" height="1.8" fill="#111"/><rect x="541.8" y="352.6" width="3.4" height="1.8" fill="#111"/><rect x="546.3" y="352.6" width="3.9" height="1.8" fill="#111"/><rect x="551.3" y="352.6" width="5.8" height="1.8" fill="#111"/><rect x="610.3" y="352.6" width="2.0" height="1.8" fill="#111"/><rect x="440.2" y="365.7" width="11.8" height="1.8" fill="#111"/><rect x="461.3" y="365.7" width="2.0" height="1.8" fill="#111"/><rect x="467.0" y="365.7" width="2.0" height="1.8" fill="#111"/><rect x="437.8" y="379.6" width="14.9" height="1.8" fill="#111"/><rect x="453.8" y="379.6" width="26.9" height="1.8" fill="#111"/><rect x="481.8" y="379.6" width="11.4" height="1.8" fill="#111"/><rect x="493.5" y="379.6" width="2.0" height="1.8" fill="#111"/><rect x="496.5" y="379.6" width="2.0" height="1.8" fill="#111"/><rect x="504.8" y="379.6" width="4.9" height="1.8" fill="#111"/><rect x="510.8" y="379.6" width="6.3" height="1.8" fill="#111"/><rect x="520.1" y="379.6" width="2.0" height="1.8" fill="#111"/><rect x="525.8" y="379.6" width="2.0" height="1.8" fill="#111"/><rect x="541.0" y="379.6" width="2.0" height="1.8" fill="#111"/><rect x="547.9" y="379.6" width="2.0" height="1.8" fill="#111"/><rect x="438.3" y="392.3" width="4.2" height="1.8" fill="#111"/><rect x="472.5" y="392.3" width="4.7" height="1.8" fill="#111"/><rect x="479.3" y="392.3" width="6.9" height="1.8" fill="#111"/><rect x="495.3" y="392.3" width="3.6" height="1.8" fill="#111"/><rect x="530.0" y="392.3" width="4.2" height="1.8" fill="#111"/><rect x="437.8" y="406.0" width="4.7" height="1.8" fill="#111"/><rect x="448.4" y="406.0" width="7.8" height="1.8" fill="#111"/><rect x="457.0" y="406.0" width="2.0" height="1.8" fill="#111"/><text x="645.0" y="224.0" font-size="8.3" text-anchor="start" fill="#000" stroke="#000" stroke-width="0.15" font-style="italic" >Bet pop</text><text x="645.0" y="235.7" font-size="8.3" text-anchor="start" fill="#000" stroke="#000" stroke-width="0.15" font-style="italic" >Cal can</text><text x="645.0" y="249.7" font-size="8.3" text-anchor="start" fill="#000" stroke="#000" stroke-width="0.15" font-style="italic" >Aln rug</text><text x="645.0" y="263.0" font-size="8.3" text-anchor="start" fill="#000" stroke="#000" stroke-width="0.15" font-style="italic" >Ace rub</text><text x="645.0" y="276.3" font-size="8.3" text-anchor="start" fill="#000" stroke="#000" stroke-width="0.15" font-style="italic" >Iri ver</text><text x="645.0" y="289.2" font-size="8.3" text-anchor="start" fill="#000" stroke="#000" stroke-width="0.15" font-style="italic" >Abi bal</text><text x="645.0" y="302.1" font-size="8.3" text-anchor="start" fill="#000" stroke="#000" stroke-width="0.15" font-style="italic" >Car can</text><text x="645.0" y="315.0" font-size="8.3" text-anchor="start" fill="#000" stroke="#000" stroke-width="0.15" font-style="italic" >Pic mar</text><text x="645.0" y="328.3" font-size="8.3" text-anchor="start" fill="#000" stroke="#000" stroke-width="0.15" font-style="italic" >Car pau</text><text x="645.0" y="341.6" font-size="8.3" text-anchor="start" fill="#000" stroke="#000" stroke-width="0.15" font-style="italic" >Eri ang</text><text x="645.0" y="355.2" font-size="8.3" text-anchor="start" fill="#000" stroke="#000" stroke-width="0.15" font-style="italic" >SPH FAL</text><text x="645.0" y="366.6" font-size="8.3" text-anchor="start" fill="#000" stroke="#000" stroke-width="0.15" font-style="italic" >Vac oxy</text><text x="645.0" y="380.7" font-size="8.3" text-anchor="start" fill="#000" stroke="#000" stroke-width="0.15" font-style="italic" >Mai tri</text><text x="645.0" y="394.0" font-size="8.3" text-anchor="start" fill="#000" stroke="#000" stroke-width="0.15" font-style="italic" >POL STR</text><text x="645.0" y="405.7" font-size="8.3" text-anchor="start" fill="#000" stroke="#000" stroke-width="0.15" font-style="italic" >Cha cal</text><line x1="430.5" y1="641.5" x2="628.4" y2="641.5" stroke="#333" stroke-width="1.0" /><line x1="430.9" y1="641.5" x2="430.9" y2="639.3" stroke="#333" stroke-width="0.8" /><text x="430.9" y="653.4" font-size="7.2" text-anchor="middle" fill="#222" stroke="#222" stroke-width="0.3" >0</text><line x1="470.3" y1="641.5" x2="470.3" y2="639.3" stroke="#333" stroke-width="0.8" /><text x="470.3" y="653.4" font-size="7.2" text-anchor="middle" fill="#222" stroke="#222" stroke-width="0.3" >20</text><line x1="509.7" y1="641.5" x2="509.7" y2="639.3" stroke="#333" stroke-width="0.8" /><text x="509.7" y="653.4" font-size="7.2" text-anchor="middle" fill="#222" stroke="#222" stroke-width="0.3" >40</text><line x1="549.2" y1="641.5" x2="549.2" y2="639.3" stroke="#333" stroke-width="0.8" /><text x="549.2" y="653.4" font-size="7.2" text-anchor="middle" fill="#222" stroke="#222" stroke-width="0.3" >60</text><line x1="588.6" y1="641.5" x2="588.6" y2="639.3" stroke="#333" stroke-width="0.8" /><text x="588.6" y="653.4" font-size="7.2" text-anchor="middle" fill="#222" stroke="#222" stroke-width="0.3" >80</text><line x1="628.0" y1="641.5" x2="628.0" y2="639.3" stroke="#333" stroke-width="0.8" /><text x="628.0" y="653.4" font-size="7.2" text-anchor="middle" fill="#222" stroke="#222" stroke-width="0.3" >100</text><rect x="591.1" y="442.6" width="5.7" height="1.8" fill="#111"/><rect x="605.8" y="442.6" width="2.0" height="1.8" fill="#111"/><rect x="610.1" y="442.6" width="18.1" height="1.8" fill="#111"/><rect x="551.2" y="456.1" width="6.0" height="1.8" fill="#111"/><rect x="560.3" y="456.1" width="9.7" height="1.8" fill="#111"/><rect x="576.4" y="456.1" width="9.2" height="1.8" fill="#111"/><rect x="587.3" y="456.1" width="4.4" height="1.8" fill="#111"/><rect x="622.6" y="456.1" width="2.0" height="1.8" fill="#111"/><rect x="514.4" y="469.4" width="10.4" height="1.8" fill="#111"/><rect x="533.3" y="469.4" width="4.1" height="1.8" fill="#111"/><rect x="539.8" y="469.4" width="2.0" height="1.8" fill="#111"/><rect x="575.2" y="469.4" width="2.0" height="1.8" fill="#111"/><rect x="578.8" y="469.4" width="3.1" height="1.8" fill="#111"/><rect x="588.4" y="469.4" width="8.4" height="1.8" fill="#111"/><rect x="598.5" y="469.4" width="19.2" height="1.8" fill="#111"/><rect x="621.3" y="469.4" width="4.9" height="1.8" fill="#111"/><rect x="503.0" y="482.8" width="4.9" height="1.8" fill="#111"/><rect x="550.4" y="482.8" width="2.0" height="1.8" fill="#111"/><rect x="555.5" y="482.8" width="6.5" height="1.8" fill="#111"/><rect x="569.1" y="482.8" width="3.7" height="1.8" fill="#111"/><rect x="583.6" y="482.8" width="8.9" height="1.8" fill="#111"/><rect x="594.5" y="482.8" width="2.0" height="1.8" fill="#111"/><rect x="599.3" y="482.8" width="6.9" height="1.8" fill="#111"/><rect x="611.4" y="482.8" width="2.0" height="1.8" fill="#111"/><rect x="486.6" y="495.9" width="2.0" height="1.8" fill="#111"/><rect x="493.1" y="495.9" width="4.1" height="1.8" fill="#111"/><rect x="499.5" y="495.9" width="2.0" height="1.8" fill="#111"/><rect x="506.2" y="495.9" width="7.0" height="1.8" fill="#111"/><rect x="535.7" y="495.9" width="4.1" height="1.8" fill="#111"/><rect x="542.3" y="495.9" width="12.8" height="1.8" fill="#111"/><rect x="562.2" y="495.9" width="14.6" height="1.8" fill="#111"/><rect x="579.9" y="495.9" width="2.0" height="1.8" fill="#111"/><rect x="460.5" y="509.6" width="8.2" height="1.8" fill="#111"/><rect x="469.8" y="509.6" width="32.9" height="1.8" fill="#111"/><rect x="503.8" y="509.6" width="75.4" height="1.8" fill="#111"/><rect x="455.3" y="522.4" width="2.0" height="1.8" fill="#111"/><rect x="484.2" y="522.4" width="13.6" height="1.8" fill="#111"/><rect x="509.4" y="522.4" width="9.8" height="1.8" fill="#111"/><rect x="520.3" y="522.4" width="50.0" height="1.8" fill="#111"/><rect x="571.2" y="522.4" width="8.8" height="1.8" fill="#111"/><rect x="581.5" y="522.4" width="17.0" height="1.8" fill="#111"/><rect x="600.5" y="522.4" width="18.0" height="1.8" fill="#111"/><rect x="621.8" y="522.4" width="2.0" height="1.8" fill="#111"/><rect x="442.1" y="536.1" width="5.9" height="1.8" fill="#777"/><rect x="454.0" y="536.1" width="4.9" height="1.8" fill="#777"/><rect x="476.2" y="536.1" width="3.6" height="1.8" fill="#777"/><rect x="490.3" y="536.1" width="9.6" height="1.8" fill="#777"/><rect x="520.8" y="536.1" width="6.1" height="1.8" fill="#777"/><rect x="547.1" y="536.1" width="14.1" height="1.8" fill="#777"/><rect x="574.0" y="536.1" width="9.2" height="1.8" fill="#777"/><rect x="596.9" y="536.1" width="11.2" height="1.8" fill="#777"/><rect x="434.1" y="549.5" width="11.2" height="1.8" fill="#111"/><rect x="456.1" y="549.5" width="4.8" height="1.8" fill="#111"/><rect x="462.5" y="549.5" width="10.6" height="1.8" fill="#111"/><rect x="480.2" y="549.5" width="4.7" height="1.8" fill="#111"/><rect x="488.6" y="549.5" width="25.7" height="1.8" fill="#111"/><rect x="515.2" y="549.5" width="2.0" height="1.8" fill="#111"/><rect x="521.2" y="549.5" width="3.6" height="1.8" fill="#111"/><rect x="530.5" y="549.5" width="4.8" height="1.8" fill="#111"/><rect x="433.2" y="562.7" width="8.9" height="1.8" fill="#111"/><rect x="442.5" y="562.7" width="31.7" height="1.8" fill="#111"/><rect x="476.2" y="562.7" width="3.6" height="1.8" fill="#111"/><rect x="481.0" y="562.7" width="3.9" height="1.8" fill="#111"/><rect x="486.6" y="562.7" width="8.5" height="1.8" fill="#111"/><rect x="497.1" y="562.7" width="2.0" height="1.8" fill="#111"/><rect x="501.9" y="562.7" width="2.0" height="1.8" fill="#111"/><rect x="533.3" y="562.7" width="6.9" height="1.8" fill="#111"/><rect x="541.8" y="562.7" width="8.5" height="1.8" fill="#111"/><rect x="552.0" y="562.7" width="2.0" height="1.8" fill="#111"/><rect x="431.2" y="576.4" width="7.7" height="1.8" fill="#111"/><rect x="457.4" y="576.4" width="5.5" height="1.8" fill="#111"/><rect x="475.4" y="576.4" width="5.7" height="1.8" fill="#111"/><rect x="487.4" y="576.4" width="7.7" height="1.8" fill="#111"/><rect x="511.5" y="576.4" width="12.0" height="1.8" fill="#111"/><rect x="524.7" y="576.4" width="6.5" height="1.8" fill="#111"/><rect x="532.7" y="576.4" width="8.7" height="1.8" fill="#111"/><rect x="562.4" y="576.4" width="2.0" height="1.8" fill="#111"/><rect x="568.0" y="576.4" width="17.1" height="1.8" fill="#111"/><rect x="605.3" y="576.4" width="11.6" height="1.8" fill="#111"/><rect x="618.9" y="576.4" width="4.1" height="1.8" fill="#111"/><rect x="625.4" y="576.4" width="2.0" height="1.8" fill="#111"/><rect x="430.4" y="589.4" width="6.4" height="1.8" fill="#111"/><rect x="455.6" y="589.4" width="3.3" height="1.8" fill="#111"/><rect x="465.8" y="589.4" width="2.0" height="1.8" fill="#111"/><rect x="471.4" y="589.4" width="3.6" height="1.8" fill="#111"/><rect x="484.2" y="589.4" width="4.0" height="1.8" fill="#111"/><rect x="491.0" y="589.4" width="2.0" height="1.8" fill="#111"/><rect x="504.3" y="589.4" width="3.6" height="1.8" fill="#111"/><rect x="513.6" y="589.4" width="14.1" height="1.8" fill="#111"/><rect x="538.6" y="589.4" width="2.0" height="1.8" fill="#111"/><rect x="560.3" y="589.4" width="6.5" height="1.8" fill="#111"/><rect x="569.9" y="589.4" width="4.0" height="1.8" fill="#111"/><rect x="604.5" y="589.4" width="3.6" height="1.8" fill="#111"/><rect x="612.0" y="589.4" width="16.2" height="1.8" fill="#111"/><rect x="430.4" y="602.9" width="11.2" height="1.8" fill="#111"/><rect x="444.9" y="602.9" width="7.3" height="1.8" fill="#111"/><rect x="453.4" y="602.9" width="7.5" height="1.8" fill="#111"/><rect x="464.6" y="602.9" width="16.5" height="1.8" fill="#111"/><rect x="484.5" y="602.9" width="2.5" height="1.8" fill="#111"/><rect x="488.6" y="602.9" width="19.3" height="1.8" fill="#111"/><rect x="512.6" y="602.9" width="5.3" height="1.8" fill="#111"/><rect x="527.1" y="602.9" width="28.0" height="1.8" fill="#111"/><rect x="588.9" y="602.9" width="6.3" height="1.8" fill="#111"/><rect x="599.7" y="602.9" width="2.0" height="1.8" fill="#111"/><rect x="617.8" y="602.9" width="7.5" height="1.8" fill="#111"/><rect x="430.4" y="616.2" width="2.0" height="1.8" fill="#111"/><rect x="437.3" y="616.2" width="5.6" height="1.8" fill="#111"/><rect x="444.6" y="616.2" width="2.0" height="1.8" fill="#111"/><rect x="452.4" y="616.2" width="12.1" height="1.8" fill="#111"/><rect x="466.6" y="616.2" width="18.3" height="1.8" fill="#111"/><rect x="500.3" y="616.2" width="2.0" height="1.8" fill="#111"/><rect x="512.8" y="616.2" width="2.0" height="1.8" fill="#111"/><rect x="541.5" y="616.2" width="2.0" height="1.8" fill="#111"/><rect x="550.7" y="616.2" width="2.0" height="1.8" fill="#111"/><rect x="430.4" y="629.4" width="13.8" height="1.8" fill="#111"/><rect x="446.5" y="629.4" width="43.7" height="1.8" fill="#111"/><rect x="492.2" y="629.4" width="11.7" height="1.8" fill="#111"/><rect x="507.2" y="629.4" width="2.0" height="1.8" fill="#111"/><rect x="526.0" y="629.4" width="11.9" height="1.8" fill="#111"/><rect x="541.5" y="629.4" width="2.0" height="1.8" fill="#111"/><text x="643.2" y="445.6" font-size="8.3" text-anchor="start" fill="#000" stroke="#000" stroke-width="0.15" font-style="italic" >Abi bal</text><text x="643.2" y="459.3" font-size="8.3" text-anchor="start" fill="#000" stroke="#000" stroke-width="0.15" font-style="italic" >Ile ver</text><text x="643.2" y="472.9" font-size="8.3" text-anchor="start" fill="#000" stroke="#000" stroke-width="0.15" font-style="italic" >Car tri</text><text x="643.2" y="486.6" font-size="8.3" text-anchor="start" fill="#000" stroke="#000" stroke-width="0.15" font-style="italic" >Nem muc</text><text x="643.2" y="499.5" font-size="8.3" text-anchor="start" fill="#000" stroke="#000" stroke-width="0.15" font-style="italic" >Myr gal</text><text x="643.2" y="513.1" font-size="8.3" text-anchor="start" fill="#000" stroke="#000" stroke-width="0.15" font-style="italic" >Mai tri</text><text x="643.2" y="526.8" font-size="8.3" text-anchor="start" fill="#000" stroke="#000" stroke-width="0.15" font-style="italic" >SPH FAL</text><text x="643.2" y="540.1" font-size="8.3" text-anchor="start" fill="#000" stroke="#000" stroke-width="0.15" font-style="italic" >Lar lar</text><text x="643.2" y="553.0" font-size="8.3" text-anchor="start" fill="#000" stroke="#000" stroke-width="0.15" font-style="italic" >Eri ang</text><text x="643.2" y="566.3" font-size="8.3" text-anchor="start" fill="#000" stroke="#000" stroke-width="0.15" font-style="italic" >Cha cal</text><text x="643.2" y="579.9" font-size="8.3" text-anchor="start" fill="#000" stroke="#000" stroke-width="0.15" font-style="italic" >Gay bac</text><text x="643.2" y="592.8" font-size="8.3" text-anchor="start" fill="#000" stroke="#000" stroke-width="0.15" font-style="italic" >Pic mar</text><text x="643.2" y="606.1" font-size="8.3" text-anchor="start" fill="#000" stroke="#000" stroke-width="0.15" font-style="italic" >Kal ang</text><text x="643.2" y="620.2" font-size="8.3" text-anchor="start" fill="#000" stroke="#000" stroke-width="0.15" font-style="italic" >Vac oxy</text><text x="643.2" y="633.1" font-size="8.3" text-anchor="start" fill="#000" stroke="#000" stroke-width="0.15" font-style="italic" >SPH MAG</text><line x1="433.9" y1="871.2" x2="611.4" y2="871.2" stroke="#333" stroke-width="1.0" /><line x1="434.3" y1="871.2" x2="434.3" y2="869.0" stroke="#333" stroke-width="0.8" /><text x="434.3" y="884.0" font-size="9.3" text-anchor="middle" fill="#222" stroke="#222" stroke-width="0.3" >0</text><line x1="484.8" y1="871.2" x2="484.8" y2="869.0" stroke="#333" stroke-width="0.8" /><text x="484.8" y="884.0" font-size="9.3" text-anchor="middle" fill="#222" stroke="#222" stroke-width="0.3" >20</text><line x1="535.3" y1="871.2" x2="535.3" y2="869.0" stroke="#333" stroke-width="0.8" /><text x="535.3" y="884.0" font-size="9.3" text-anchor="middle" fill="#222" stroke="#222" stroke-width="0.3" >40</text><line x1="585.8" y1="871.2" x2="585.8" y2="869.0" stroke="#333" stroke-width="0.8" /><text x="585.8" y="884.0" font-size="9.3" text-anchor="middle" fill="#222" stroke="#222" stroke-width="0.3" >60</text><line x1="611.0" y1="871.2" x2="611.0" y2="869.0" stroke="#333" stroke-width="0.8" /><rect x="578.8" y="670.7" width="11.6" height="1.8" fill="#111"/><rect x="548.3" y="685.3" width="2.0" height="1.8" fill="#111"/><rect x="561.1" y="685.3" width="3.1" height="1.8" fill="#111"/><rect x="567.1" y="685.3" width="14.2" height="1.8" fill="#111"/><rect x="587.1" y="685.3" width="3.8" height="1.8" fill="#111"/><rect x="592.4" y="685.3" width="3.3" height="1.8" fill="#111"/><rect x="610.1" y="685.3" width="2.0" height="1.8" fill="#111"/><rect x="498.7" y="699.6" width="5.2" height="1.8" fill="#111"/><rect x="509.9" y="699.6" width="4.4" height="1.8" fill="#111"/><rect x="521.2" y="699.6" width="5.2" height="1.8" fill="#111"/><rect x="530.0" y="699.6" width="2.0" height="1.8" fill="#111"/><rect x="534.0" y="699.6" width="3.9" height="1.8" fill="#111"/><rect x="569.6" y="699.6" width="2.0" height="1.8" fill="#111"/><rect x="590.0" y="699.6" width="2.8" height="1.8" fill="#111"/><rect x="596.1" y="699.6" width="4.0" height="1.8" fill="#111"/><rect x="605.3" y="699.6" width="2.0" height="1.8" fill="#111"/><rect x="610.1" y="699.6" width="2.0" height="1.8" fill="#111"/><rect x="493.1" y="714.0" width="2.0" height="1.8" fill="#111"/><rect x="510.7" y="714.0" width="2.0" height="1.8" fill="#111"/><rect x="519.6" y="714.0" width="2.0" height="1.8" fill="#111"/><rect x="531.9" y="714.0" width="2.0" height="1.8" fill="#111"/><rect x="544.3" y="714.0" width="2.0" height="1.8" fill="#111"/><rect x="554.7" y="714.0" width="3.1" height="1.8" fill="#111"/><rect x="576.1" y="714.0" width="2.0" height="1.8" fill="#111"/><rect x="475.9" y="728.6" width="7.4" height="1.8" fill="#111"/><rect x="490.3" y="728.6" width="2.0" height="1.8" fill="#111"/><rect x="493.9" y="728.6" width="8.4" height="1.8" fill="#111"/><rect x="467.4" y="742.8" width="2.0" height="1.8" fill="#111"/><rect x="472.7" y="742.8" width="7.1" height="1.8" fill="#111"/><rect x="491.4" y="742.8" width="4.0" height="1.8" fill="#111"/><rect x="500.3" y="742.8" width="2.0" height="1.8" fill="#111"/><rect x="512.8" y="742.8" width="3.9" height="1.8" fill="#111"/><rect x="522.3" y="742.8" width="2.0" height="1.8" fill="#111"/><rect x="526.8" y="742.8" width="2.0" height="1.8" fill="#111"/><rect x="594.8" y="742.8" width="16.2" height="1.8" fill="#111"/><rect x="451.0" y="757.1" width="2.0" height="1.8" fill="#111"/><rect x="457.2" y="757.1" width="2.0" height="1.8" fill="#111"/><rect x="486.3" y="757.1" width="2.0" height="1.8" fill="#111"/><rect x="494.7" y="757.1" width="2.0" height="1.8" fill="#111"/><rect x="499.0" y="757.1" width="2.0" height="1.8" fill="#111"/><rect x="516.8" y="757.1" width="2.0" height="1.8" fill="#111"/><rect x="524.0" y="757.1" width="19.0" height="1.8" fill="#111"/><rect x="559.8" y="757.1" width="2.0" height="1.8" fill="#111"/><rect x="590.0" y="757.1" width="2.8" height="1.8" fill="#111"/><rect x="450.0" y="771.8" width="2.0" height="1.8" fill="#111"/><rect x="473.8" y="771.8" width="6.0" height="1.8" fill="#111"/><rect x="482.6" y="771.8" width="2.0" height="1.8" fill="#111"/><rect x="486.6" y="771.8" width="4.4" height="1.8" fill="#111"/><rect x="495.5" y="771.8" width="8.1" height="1.8" fill="#111"/><rect x="511.5" y="771.8" width="3.6" height="1.8" fill="#111"/><rect x="525.2" y="771.8" width="2.0" height="1.8" fill="#111"/><rect x="576.0" y="771.8" width="2.0" height="1.8" fill="#111"/><rect x="606.1" y="771.8" width="3.6" height="1.8" fill="#111"/><rect x="448.6" y="786.1" width="7.1" height="1.8" fill="#111"/><rect x="463.7" y="786.1" width="2.0" height="1.8" fill="#111"/><rect x="469.0" y="786.1" width="4.4" height="1.8" fill="#111"/><rect x="482.6" y="786.1" width="2.0" height="1.8" fill="#111"/><rect x="487.8" y="786.1" width="3.2" height="1.8" fill="#111"/><rect x="437.2" y="800.6" width="2.0" height="1.8" fill="#111"/><rect x="452.1" y="800.6" width="3.6" height="1.8" fill="#111"/><rect x="473.8" y="800.6" width="5.7" height="1.8" fill="#111"/><rect x="485.0" y="800.6" width="5.2" height="1.8" fill="#111"/><rect x="509.1" y="800.6" width="3.6" height="1.8" fill="#111"/><rect x="525.2" y="800.6" width="11.4" height="1.8" fill="#111"/><rect x="434.1" y="815.2" width="16.0" height="1.8" fill="#111"/><rect x="453.4" y="815.2" width="2.0" height="1.8" fill="#111"/><rect x="459.3" y="815.2" width="8.0" height="1.8" fill="#111"/><rect x="469.0" y="815.2" width="6.0" height="1.8" fill="#111"/><rect x="489.0" y="815.2" width="4.9" height="1.8" fill="#111"/><rect x="500.3" y="815.2" width="2.0" height="1.8" fill="#111"/><rect x="508.0" y="815.2" width="5.2" height="1.8" fill="#111"/><rect x="515.5" y="815.2" width="6.9" height="1.8" fill="#111"/><rect x="535.9" y="815.2" width="10.7" height="1.8" fill="#111"/><rect x="547.9" y="815.2" width="13.9" height="1.8" fill="#111"/><rect x="564.6" y="815.2" width="12.6" height="1.8" fill="#111"/><rect x="590.0" y="815.2" width="3.2" height="1.8" fill="#111"/><rect x="597.6" y="815.2" width="3.6" height="1.8" fill="#111"/><rect x="605.3" y="815.2" width="2.0" height="1.8" fill="#111"/><rect x="434.1" y="829.1" width="16.8" height="1.8" fill="#111"/><rect x="456.1" y="829.1" width="3.1" height="1.8" fill="#111"/><rect x="463.3" y="829.1" width="6.1" height="1.8" fill="#111"/><rect x="473.8" y="829.1" width="2.0" height="1.8" fill="#111"/><rect x="478.6" y="829.1" width="4.4" height="1.8" fill="#111"/><rect x="485.0" y="829.1" width="4.4" height="1.8" fill="#111"/><rect x="493.1" y="829.1" width="2.0" height="1.8" fill="#111"/><rect x="497.9" y="829.1" width="83.4" height="1.8" fill="#111"/><rect x="589.7" y="829.1" width="2.0" height="1.8" fill="#111"/><rect x="432.8" y="843.6" width="2.0" height="1.8" fill="#111"/><rect x="438.5" y="843.6" width="2.8" height="1.8" fill="#111"/><rect x="444.9" y="843.6" width="34.6" height="1.8" fill="#111"/><rect x="482.6" y="843.6" width="10.9" height="1.8" fill="#111"/><rect x="495.5" y="843.6" width="13.2" height="1.8" fill="#111"/><rect x="510.7" y="843.6" width="11.7" height="1.8" fill="#111"/><rect x="530.8" y="843.6" width="5.0" height="1.8" fill="#111"/><rect x="541.8" y="843.6" width="12.5" height="1.8" fill="#111"/><rect x="558.4" y="843.6" width="2.0" height="1.8" fill="#111"/><rect x="563.2" y="843.6" width="27.7" height="1.8" fill="#111"/><rect x="594.8" y="843.6" width="5.3" height="1.8" fill="#111"/><rect x="604.0" y="843.6" width="7.3" height="1.8" fill="#111"/><rect x="433.2" y="858.4" width="4.5" height="1.8" fill="#111"/><rect x="461.3" y="858.4" width="2.0" height="1.8" fill="#111"/><rect x="470.6" y="858.4" width="22.0" height="1.8" fill="#111"/><rect x="496.3" y="858.4" width="2.0" height="1.8" fill="#111"/><rect x="508.0" y="858.4" width="5.5" height="1.8" fill="#111"/><rect x="519.5" y="858.4" width="4.0" height="1.8" fill="#111"/><text x="644.4" y="674.4" font-size="8.3" text-anchor="start" fill="#000" stroke="#000" stroke-width="0.15" font-style="italic" >Abi bal</text><text x="644.4" y="688.8" font-size="8.3" text-anchor="start" fill="#000" stroke="#000" stroke-width="0.15" font-style="italic" >PLE SCH</text><text x="644.4" y="702.8" font-size="8.3" text-anchor="start" fill="#000" stroke="#000" stroke-width="0.15" font-style="italic" >Vac ang</text><text x="644.4" y="717.3" font-size="8.3" text-anchor="start" fill="#000" stroke="#000" stroke-width="0.15" font-style="italic" >Vib cas</text><text x="644.4" y="732.4" font-size="8.3" text-anchor="start" fill="#000" stroke="#000" stroke-width="0.15" font-style="italic" >Eri ang</text><text x="644.4" y="746.5" font-size="8.3" text-anchor="start" fill="#000" stroke="#000" stroke-width="0.15" font-style="italic" >SPH CAP</text><text x="644.4" y="760.9" font-size="8.3" text-anchor="start" fill="#000" stroke="#000" stroke-width="0.15" font-style="italic" >SPH ANG</text><text x="644.4" y="775.7" font-size="8.3" text-anchor="start" fill="#000" stroke="#000" stroke-width="0.15" font-style="italic" >Rho gro</text><text x="644.4" y="789.4" font-size="8.3" text-anchor="start" fill="#000" stroke="#000" stroke-width="0.15" font-style="italic" >SPH FLA</text><text x="644.4" y="804.2" font-size="8.3" text-anchor="start" fill="#000" stroke="#000" stroke-width="0.15" font-style="italic" >Cha cal</text><text x="644.4" y="818.6" font-size="8.3" text-anchor="start" fill="#000" stroke="#000" stroke-width="0.15" font-style="italic" >Pic mar</text><text x="644.4" y="832.6" font-size="8.3" text-anchor="start" fill="#000" stroke="#000" stroke-width="0.15" font-style="italic" >Rho can</text><text x="644.4" y="847.8" font-size="8.3" text-anchor="start" fill="#000" stroke="#000" stroke-width="0.15" font-style="italic" >Kal ang</text><text x="644.4" y="862.2" font-size="8.3" text-anchor="start" fill="#000" stroke="#000" stroke-width="0.15" font-style="italic" >SPH RUB</text><text x="196.2" y="902.8" font-size="11.6" text-anchor="middle" fill="#111" stroke="#111" stroke-width="0.15" textLength="141" lengthAdjust="spacingAndGlyphs" >Distance from beginning of</text><text x="197.0" y="916.2" font-size="11.6" text-anchor="middle" fill="#111" stroke="#111" stroke-width="0.15" textLength="95.5" lengthAdjust="spacingAndGlyphs" >transect in bog (m)</text><text x="519.5" y="903.4" font-size="11.6" text-anchor="middle" fill="#111" stroke="#111" stroke-width="0.15" textLength="141" lengthAdjust="spacingAndGlyphs" >Distance from beginning of</text><text x="521.0" y="916.9" font-size="11.6" text-anchor="middle" fill="#111" stroke="#111" stroke-width="0.15" textLength="95.5" lengthAdjust="spacingAndGlyphs" >transect in bog (m)</text></svg>
</body></html>
